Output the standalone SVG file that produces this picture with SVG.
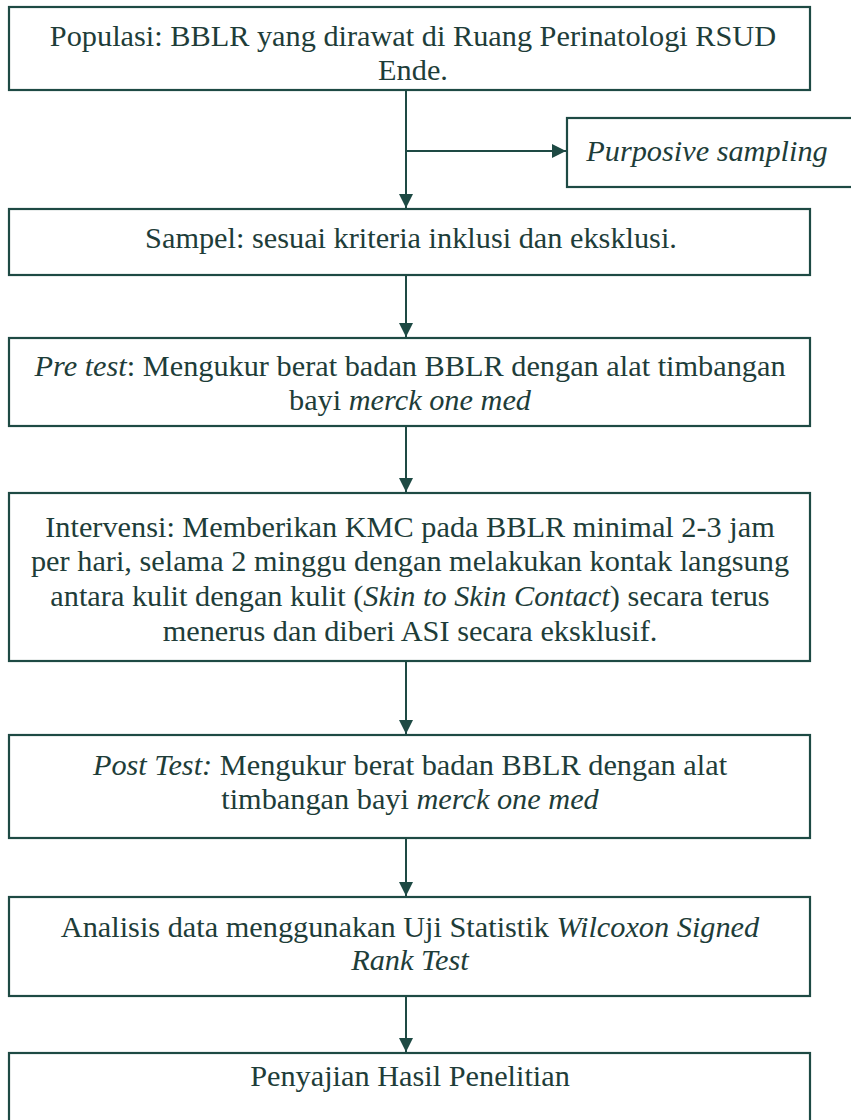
<svg xmlns="http://www.w3.org/2000/svg" width="851" height="1120" viewBox="0 0 851 1120">
<style>
.box{fill:#fff;stroke:#1e4a44;stroke-width:2.2}
.t{font-family:"Liberation Serif","Times New Roman",serif;font-size:30.3px;fill:#1e3d39;text-anchor:middle}
.i{font-style:italic}
.c{stroke:#1e4a44;stroke-width:2;fill:none}
</style>
<defs>
<marker id="ah" viewBox="0 0 14 14" refX="14" refY="7" markerWidth="14" markerHeight="14" markerUnits="userSpaceOnUse" orient="auto">
<path d="M0,0 L14,7 L0,14 Z" fill="#1e4a44"/>
</marker>
</defs>
<rect width="851" height="1120" fill="#fff"/>
<g id="connectors">
<line class="c" x1="406" y1="91" x2="406" y2="208" marker-end="url(#ah)"/>
<line class="c" x1="406" y1="151" x2="566" y2="151" marker-end="url(#ah)"/>
<line class="c" x1="406" y1="276" x2="406" y2="337" marker-end="url(#ah)"/>
<line class="c" x1="406" y1="427" x2="406" y2="492" marker-end="url(#ah)"/>
<line class="c" x1="406" y1="662" x2="406" y2="734" marker-end="url(#ah)"/>
<line class="c" x1="406" y1="839" x2="406" y2="896" marker-end="url(#ah)"/>
<line class="c" x1="406" y1="997" x2="406" y2="1052" marker-end="url(#ah)"/>
</g>
<g id="populasi">
<rect class="box" x="9" y="7" width="801" height="83"/>
<text class="t" x="413" y="46">Populasi: BBLR yang dirawat di Ruang Perinatologi RSUD</text>
<text class="t" x="413" y="80">Ende.</text>
</g>
<g id="purposive">
<rect class="box" x="567" y="118" width="300" height="69"/>
<text class="t i" x="707" y="161">Purposive sampling</text>
</g>
<g id="sampel">
<rect class="box" x="9" y="209" width="801" height="66"/>
<text class="t" x="411" y="248">Sampel: sesuai kriteria inklusi dan eksklusi.</text>
</g>
<g id="pretest">
<rect class="box" x="9" y="338" width="801" height="88"/>
<text class="t" x="410" y="376"><tspan class="i">Pre test</tspan>: Mengukur berat badan BBLR dengan alat timbangan</text>
<text class="t" x="410" y="410">bayi <tspan class="i">merck one med</tspan></text>
</g>
<g id="intervensi">
<rect class="box" x="9" y="493" width="801" height="168"/>
<text class="t" x="410" y="537">Intervensi: Memberikan KMC pada BBLR minimal 2-3 jam</text>
<text class="t" x="410" y="571">per hari, selama 2 minggu dengan melakukan kontak langsung</text>
<text class="t" x="410" y="606">antara kulit dengan kulit (<tspan class="i">Skin to Skin Contact</tspan>) secara terus</text>
<text class="t" x="410" y="641">menerus dan diberi ASI secara eksklusif.</text>
</g>
<g id="posttest">
<rect class="box" x="9" y="735" width="801" height="103"/>
<text class="t" x="410" y="775"><tspan class="i">Post Test:</tspan> Mengukur berat badan BBLR dengan alat</text>
<text class="t" x="410" y="809">timbangan bayi <tspan class="i">merck one med</tspan></text>
</g>
<g id="analisis">
<rect class="box" x="9" y="897" width="801" height="99"/>
<text class="t" x="410" y="937">Analisis data menggunakan Uji Statistik <tspan class="i">Wilcoxon Signed</tspan></text>
<text class="t" x="410" y="970"><tspan class="i">Rank Test</tspan></text>
</g>
<g id="penyajian">
<rect class="box" x="9" y="1053" width="801" height="90"/>
<text class="t" x="410" y="1086">Penyajian Hasil Penelitian</text>
</g>
</svg>
